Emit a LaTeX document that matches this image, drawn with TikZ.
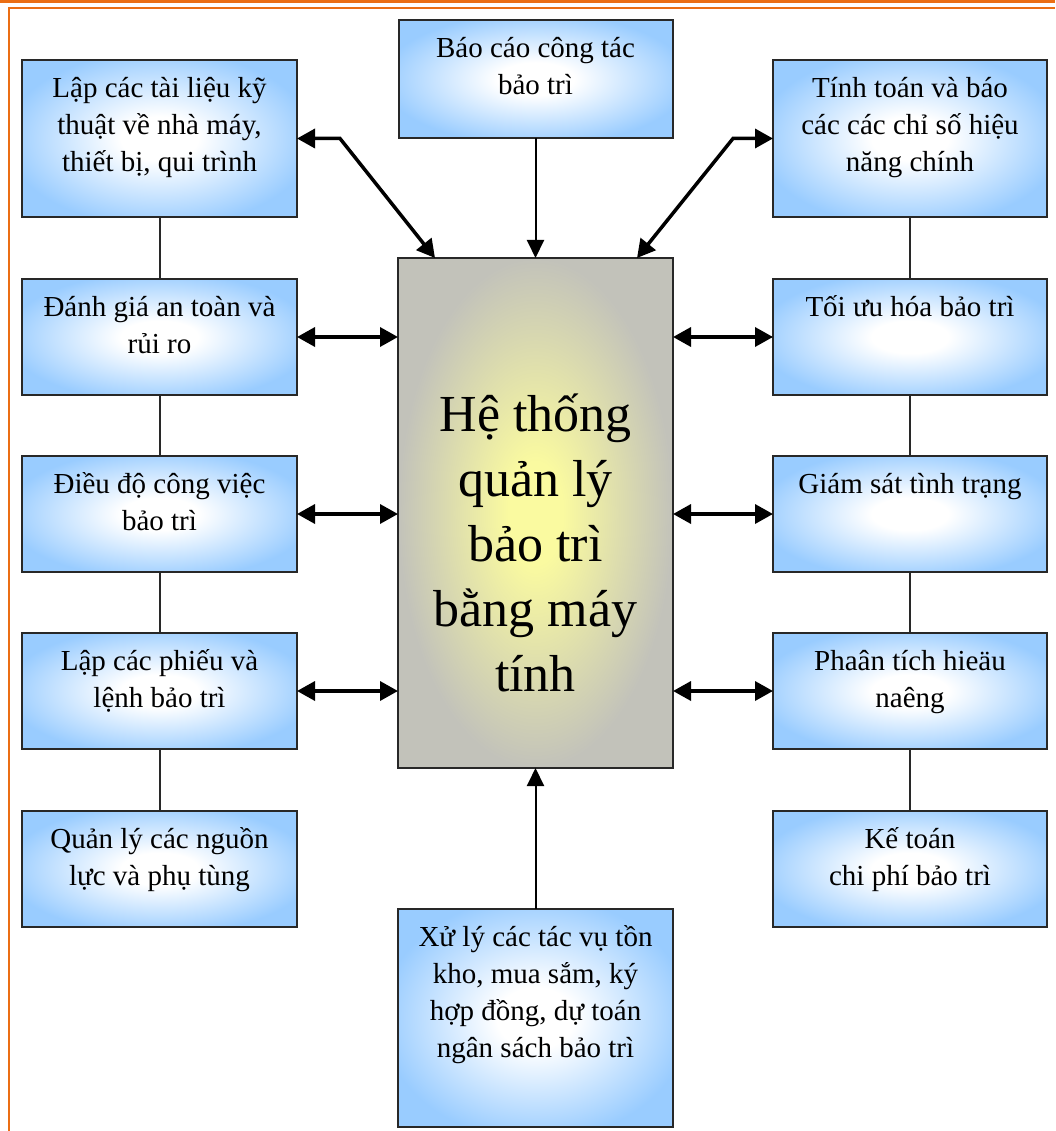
\documentclass[tikz,border=0pt]{standalone}
\usepackage{fontspec}
\setmainfont{Liberation Serif}
\usetikzlibrary{arrows.meta,calc}
\definecolor{boxblue}{RGB}{153,204,255}
\definecolor{frameorange}{RGB}{235,110,20}
\definecolor{edgegrey}{RGB}{40,40,40}
\definecolor{cgrey}{RGB}{194,194,186}
\definecolor{cyellow}{RGB}{250,250,160}
\pgfdeclareradialshading{blueshade}{\pgfpoint{0bp}{0bp}}{color(0bp)=(white); color(7bp)=(white); color(28bp)=(boxblue); color(50bp)=(boxblue)}
\pgfdeclareradialshading{centershade}{\pgfpoint{0bp}{0bp}}{color(0bp)=(cyellow); color(5bp)=(cyellow); color(25bp)=(cgrey); color(50bp)=(cgrey)}
\newcommand{\bxt}[4]{\begin{minipage}[c][#1pt][t]{#2pt}\centering\vspace*{#3pt}\strut#4\end{minipage}}
\tikzset{
  bbox/.style={draw=edgegrey, line width=2pt, inner sep=0pt, outer sep=0pt, shade, shading=blueshade, font=\fontsize{29}{37}\selectfont},
  cbox/.style={draw=edgegrey, line width=2pt, inner sep=0pt, outer sep=0pt, shade, shading=centershade, font=\fontsize{52}{65}\selectfont},
  link/.style={draw=edgegrey, line width=2pt},
  dbl/.style={draw=black, line width=3.5pt, {Triangle[length=18pt,width=19pt]}-{Triangle[length=18pt,width=19pt]}},
  single/.style={draw=black, line width=2pt, -{Triangle[length=18pt,width=17pt]}},
  frame/.style={draw=frameorange}
}
\begin{document}
\begin{tikzpicture}[x=1pt,y=-1pt]
\useasboundingbox (0,0) rectangle (1055,1131);
\fill[white] (0,0) rectangle (1055,1131);
% frame
\draw[frame, line width=3pt] (0,1.5) -- (1055,1.5);
\draw[frame, line width=2pt] (8,8) -- (1055,8);
\draw[frame, line width=2.5pt] (9,8) -- (9,1131);
% left column
\node[bbox] (l1) at (159.5,138.5) {\bxt{157}{275}{12}{Lập các tài liệu kỹ\\thuật về nhà máy,\\thiết bị, qui trình}};
\node[bbox] (l2) at (159.5,337) {\bxt{116}{275}{12}{Đánh giá an toàn và\\rủi ro}};
\node[bbox] (l3) at (159.5,514) {\bxt{116}{275}{12}{Điều độ công việc\\bảo trì}};
\node[bbox] (l4) at (159.5,691) {\bxt{116}{275}{12}{Lập các phiếu và\\lệnh bảo trì}};
\node[bbox] (l5) at (159.5,869) {\bxt{116}{275}{12}{Quản lý các nguồn\\lực và phụ tùng}};
% right column
\node[bbox] (r1) at (910,138.5) {\bxt{157}{274}{12}{Tính toán và báo\\các các chỉ số hiệu\\năng chính}};
\node[bbox] (r2) at (910,337) {\bxt{116}{274}{12}{Tối ưu hóa bảo trì}};
\node[bbox] (r3) at (910,514) {\bxt{116}{274}{12}{Giám sát tình trạng}};
\node[bbox] (r4) at (910,691) {\bxt{116}{274}{12}{Phaân tích hieäu\\naêng}};
\node[bbox] (r5) at (910,869) {\bxt{116}{274}{12}{Kế toán\\chi phí bảo trì}};
% top and bottom
\node[bbox] (top) at (535.5,79) {\bxt{118}{274}{12}{Báo cáo công tác\\bảo trì}};
\node[bbox] (bot) at (535.5,1018) {\bxt{218}{275}{12}{Xử lý các tác vụ tồn\\kho, mua sắm, ký\\hợp đồng, dự toán\\ngân sách bảo trì}};
% centre
\node[cbox] (c) at (535.5,513) {\bxt{510}{275}{127.5}{Hệ thống\\quản lý\\bảo trì\\bằng máy\\tính}};
% vertical links
\draw[link] (l1.south) -- (l2.north);
\draw[link] (l2.south) -- (l3.north);
\draw[link] (l3.south) -- (l4.north);
\draw[link] (l4.south) -- (l5.north);
\draw[link] (r1.south) -- (r2.north);
\draw[link] (r2.south) -- (r3.north);
\draw[link] (r3.south) -- (r4.north);
\draw[link] (r4.south) -- (r5.north);
% horizontal double arrows
\draw[dbl] (l2.east) -- (l2.east -| c.west);
\draw[dbl] (l3.east) -- (l3.east -| c.west);
\draw[dbl] (l4.east) -- (l4.east -| c.west);
\draw[dbl] (r2.west -| c.east) -- (r2.west);
\draw[dbl] (r3.west -| c.east) -- (r3.west);
\draw[dbl] (r4.west -| c.east) -- (r4.west);
% diagonal double arrows
\coordinate (bl) at (340,138.5);
\coordinate (tl) at ($(c.north west)+(37,0)$);
\draw[dbl] (l1.east) -- (bl) -- (tl);
\coordinate (br) at (733,138.5);
\coordinate (tr) at ($(c.north east)+(-36,0)$);
\draw[dbl] (r1.west) -- (br) -- (tr);
% single arrows
\draw[single] (top.south) -- (top.south |- c.north);
\draw[single] (bot.north) -- (bot.north |- c.south);
\end{tikzpicture}
\end{document}
